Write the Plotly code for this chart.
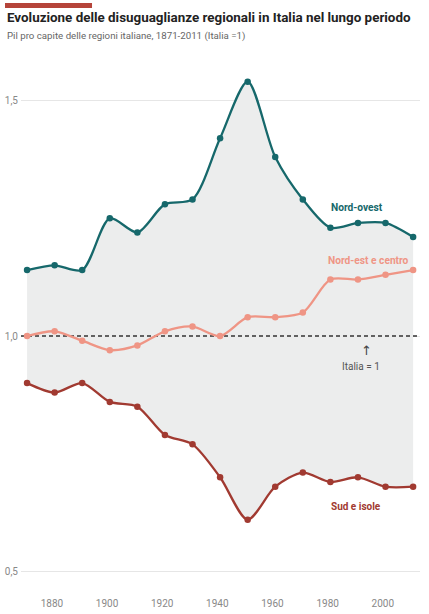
import plotly.graph_objects as go

years = [1871, 1881, 1891, 1901, 1911, 1921, 1931, 1941, 1951, 1961, 1971, 1981, 1991, 2001, 2011]
nord_ovest = [1.14, 1.15, 1.14, 1.25, 1.22, 1.28, 1.29, 1.42, 1.54, 1.38, 1.29, 1.23, 1.24, 1.24, 1.21]
nord_est_centro = [1.00, 1.01, 0.99, 0.97, 0.98, 1.01, 1.02, 1.00, 1.04, 1.04, 1.05, 1.12, 1.12, 1.13, 1.14]
sud_isole = [0.90, 0.88, 0.90, 0.86, 0.85, 0.79, 0.77, 0.70, 0.61, 0.68, 0.71, 0.69, 0.70, 0.68, 0.68]

x_ticks = [1880, 1900, 1920, 1940, 1960, 1980, 2000]
y_ticks = [0.5, 1.0, 1.5]
y_ticktext = ["0,5", "1,0", "1,5"]

C_NO = "#16686b"
C_NE = "#ef9585"
C_SUD = "#a13a31"
FILL = "#eceded"
FONT = "Roboto"
SM = 0.8

fig = go.Figure()
# shaded band between Sud and Nord-ovest
fig.add_trace(go.Scatter(x=years, y=sud_isole, mode="lines", line=dict(width=0, shape="spline", smoothing=SM),
                         hoverinfo="skip", showlegend=False))
fig.add_trace(go.Scatter(x=years, y=nord_ovest, mode="lines", line=dict(width=0, shape="spline", smoothing=SM),
                         fill="tonexty", fillcolor=FILL, hoverinfo="skip", showlegend=False))
# reference line Italia = 1
fig.add_trace(go.Scatter(x=[1868.8, 2013.5], y=[1, 1], mode="lines",
                         line=dict(color="#333333", width=1.3, dash="4px,3px"), hoverinfo="skip", showlegend=False))

for vals, col in [(nord_est_centro, C_NE), (sud_isole, C_SUD), (nord_ovest, C_NO)]:
    fig.add_trace(go.Scatter(x=years, y=vals, mode="lines+markers",
                             line=dict(color=col, width=2.3, shape="spline", smoothing=SM),
                             marker=dict(color=col, size=6.5), showlegend=False))

annotations = [
    dict(x=1990.7, y=1.272, text="<b>Nord-ovest</b>", font=dict(color=C_NO, size=10.2, family=FONT)),
    dict(x=1995.0, y=1.161, text="<b>Nord-est e centro</b>", font=dict(color=C_NE, size=10.2, family=FONT)),
    dict(x=1990.3, y=0.637, text="<b>Sud e isole</b>", font=dict(color=C_SUD, size=10, family=FONT)),
    dict(x=1994.0, y=0.970, text="↑", font=dict(color="#444444", size=13, family="DejaVu Sans")),
    dict(x=1992.1, y=0.936, text="Italia = 1", font=dict(color="#555555", size=10, family=FONT)),
]
for a in annotations:
    a.update(xref="x", yref="y", showarrow=False, xanchor="center", yanchor="middle")

annotations += [
    dict(xref="paper", yref="paper", x=-0.0401, y=1.1019, xanchor="left", yanchor="middle", showarrow=False,
         text="<b>Evoluzione delle disuguaglianze regionali in Italia nel lungo periodo</b>",
         font=dict(family=FONT, size=13.4, color="#222222")),
    dict(xref="paper", yref="paper", x=-0.0401, y=1.0654, xanchor="left", yanchor="middle", showarrow=False,
         text="Pil pro capite delle regioni italiane, 1871-2011 (Italia =1)",
         font=dict(family=FONT, size=9.7, color="#666666")),
]

fig.update_layout(
    width=429, height=614,
    margin=dict(l=21, r=9, t=70, b=24, autoexpand=False),
    paper_bgcolor="white", plot_bgcolor="white",
    annotations=annotations,
    shapes=[dict(type="rect", xref="paper", yref="paper", x0=-0.0401, x1=0.178, y0=1.119, y1=1.129,
                 fillcolor="#b5443a", line=dict(width=0))],
    xaxis=dict(range=[1868.8, 2013.5], tickvals=x_ticks, showgrid=False, zeroline=False, showline=False,
               automargin=False,
               ticks="", tickfont=dict(family=FONT, size=10, color="#888888"), ticklabelstandoff=6),
    yaxis=dict(range=[0.4607, 1.5648], tickvals=y_ticks, ticktext=y_ticktext, showgrid=True,
               automargin=False,
               gridcolor="#e6e6e6", gridwidth=1, zeroline=False, showline=False, ticks="",
               tickfont=dict(family=FONT, size=10, color="#888888"), ticklabelstandoff=2),
)

fig.write_html("out.html", config={"displayModeBar": False},
               post_script="document.body.style.margin='0';")
